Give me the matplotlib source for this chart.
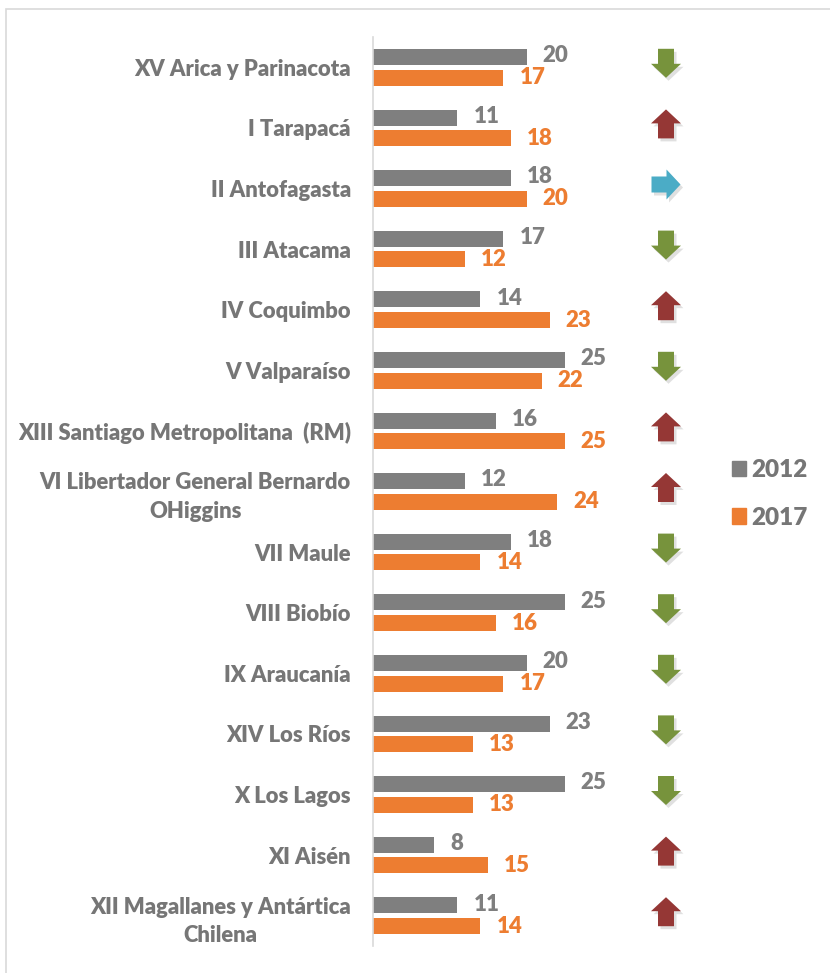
import matplotlib
matplotlib.use("Agg")
import numpy as np
import matplotlib.pyplot as plt
from matplotlib.patches import Polygon, Rectangle, Patch

plt.rcParams['font.family'] = ['Lato', 'DejaVu Sans']
plt.rcParams['font.weight'] = 'bold'

# datos
regiones = ["XV Arica y Parinacota", "I Tarapacá", "II Antofagasta", "III Atacama",
            "IV Coquimbo", "V Valparaíso", "XIII Santiago Metropolitana  (RM)",
            "VI Libertador General Bernardo\nOHiggins", "VII Maule", "VIII Biobío",
            "IX Araucanía", "XIV Los Ríos", "X Los Lagos", "XI Aisén",
            "XII Magallanes y Antártica\nChilena"]
v2012 = [20, 11, 18, 17, 14, 25, 16, 12, 18, 25, 20, 23, 25, 8, 11]
v2017 = [17, 18, 20, 12, 23, 22, 25, 24, 14, 16, 17, 13, 13, 15, 14]
tendencia = ["down", "up", "right", "down", "up", "down", "up", "up", "down", "down",
             "down", "down", "down", "up", "up"]

GRIS = '#7f7f7f'
NARANJA = '#ed7d31'
TEXTO = '#767676'
flecha_color = {"down": '#77933c', "up": '#953735', "right": '#4bacc6'}

W, H = 830, 973
fig = plt.figure(figsize=(W / 100, H / 100), dpi=100)

# marco
fig.patches.append(Rectangle((6 / W, -0.02), 1.0, 1 - 9 / H + 0.02, transform=fig.transFigure,
                             fill=False, edgecolor='#d9d9d9', lw=1.2))

top, bot = 37, 946
ax = fig.add_axes([373 / W, (H - bot) / H, (680 - 373) / W, (bot - top) / H])
y = np.arange(len(regiones))
h = 0.265
off = 0.17
ax.barh(y - off, v2012, height=h, color=GRIS, label='2012')
ax.barh(y + off, v2017, height=h, color=NARANJA, label='2017')

for i in range(len(regiones)):
    ax.annotate(str(v2012[i]), (v2012[i], i - off), xytext=(11.5, 1), textcoords='offset points',
                va='center', ha='left', color=GRIS, fontsize=16, fontweight='heavy')
    ax.annotate(str(v2017[i]), (v2017[i], i + off), xytext=(11.5, 0), textcoords='offset points',
                va='center', ha='left', color=NARANJA, fontsize=16, fontweight='heavy')

ax.set_xlim(0, 40)
ax.set_ylim(len(regiones) - 0.5, -0.5)
ax.set_yticks(y)
ax.set_yticklabels(regiones, fontsize=15.8, color=TEXTO, fontweight='heavy')
for t in ax.get_yticklabels():
    t.set_multialignment('center')
    t.set_linespacing(1.45)
ax.tick_params(axis='y', length=0, pad=16)
ax.set_xticks([])
for s in ['top', 'right', 'bottom']:
    ax.spines[s].set_visible(False)
ax.spines['left'].set_color('#d9d9d9')
ax.spines['left'].set_linewidth(1.2)
ax.patch.set_visible(False)

# flechas (ejes en pixeles)
ax2 = fig.add_axes([640 / W, (H - bot) / H, 60 / W, (bot - top) / H])
ax2.set_xlim(0, 60)
ax2.set_ylim(bot - top, 0)
ax2.axis('off')
paso = (bot - top) / len(regiones)


def flecha(cx, cy, d):
    hw, sw, hl, L = 15, 8, 14, 14.5
    pts = [(-sw, -L), (sw, -L), (sw, L - hl), (hw, L - hl), (0, L), (-hw, L - hl), (-sw, L - hl)]
    if d == "down":
        pts = [(px, py) for px, py in pts]
    elif d == "up":
        pts = [(px, -py) for px, py in pts]
    else:
        pts = [(py, px) for px, py in pts]
    return [(cx + px, cy + py) for px, py in pts]


for i, d in enumerate(tendencia):
    cy = (i + 0.5) * paso - 4
    ax2.add_patch(Polygon(flecha(28.5, cy + 3, d), closed=True, color='#000000', alpha=0.12, lw=0))
    ax2.add_patch(Polygon(flecha(26, cy, d), closed=True, color=flecha_color[d], lw=0))

handles = [Patch(color=GRIS, label='2012'), Patch(color=NARANJA, label='2017')]
leg = fig.legend(handles=handles, loc='center left', bbox_to_anchor=(710 / W, 1 - 494 / H),
                 frameon=False, handlelength=0.6, handleheight=0.6, handletextpad=0.2,
                 labelspacing=1.05, prop={'size': 17.5, 'weight': 'heavy'})
for t in leg.get_texts():
    t.set_color(TEXTO)

fig.savefig('out.png', dpi=100, facecolor='white')
